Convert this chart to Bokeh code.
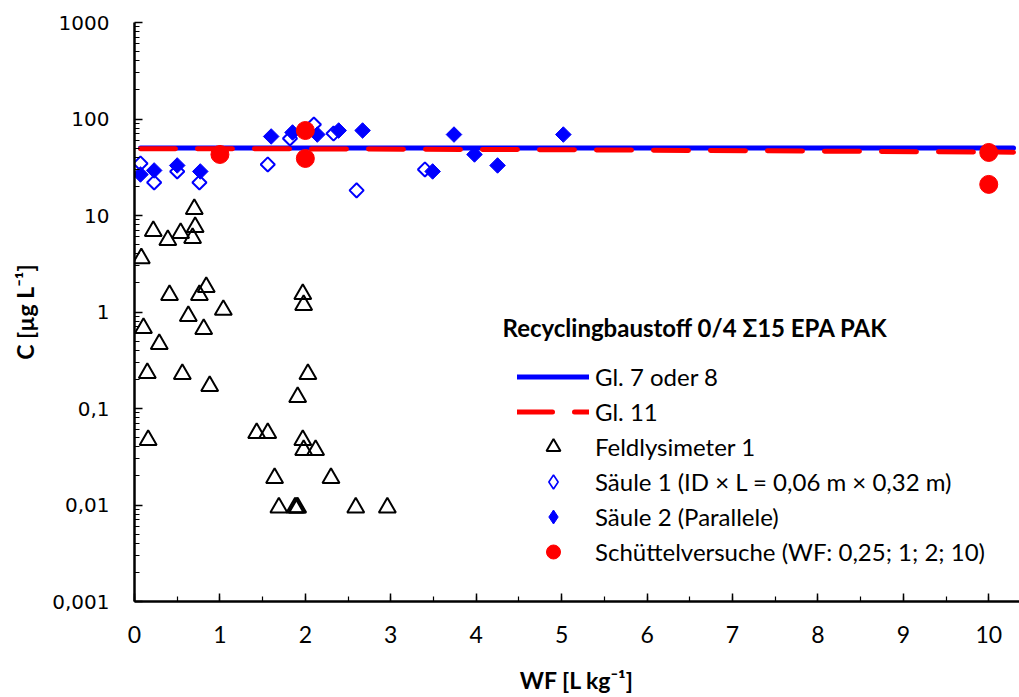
import math
from bokeh.plotting import figure
from bokeh.models import FixedTicker, Range1d, Legend, LegendItem, Label, LogScale
from bokeh.embed import file_html
from bokeh.resources import INLINE

# ---------------- data ----------------
# Feldlysimeter 1 (open triangles)
lys_wf = [0.08, 0.105, 0.15, 0.16, 0.22, 0.29, 0.39, 0.41, 0.54, 0.56, 0.63, 0.68,
          0.70, 0.71, 0.76, 0.84, 0.81, 0.88, 1.04, 1.43, 1.56, 1.64, 1.69, 1.88,
          1.90, 1.91, 2.59, 2.96, 1.97, 1.98, 2.03, 1.91, 1.97, 1.98, 2.12, 2.30]
lys_c = [3.6, 0.68, 0.233, 0.047, 6.9, 0.465, 5.56, 1.50, 6.57, 0.227, 0.907, 5.83,
         11.65, 7.58, 1.50, 1.81, 0.665, 0.171, 1.05, 0.0556, 0.0556, 0.019, 0.0094, 0.0094,
         0.0094, 0.0094, 0.0094, 0.0094, 1.53, 1.18, 0.227, 0.131, 0.047, 0.037, 0.037, 0.019]

# Säule 1 (open diamonds)
s1_wf = [0.07, 0.23, 0.50, 0.76, 1.56, 1.82, 2.10, 2.33, 2.60, 3.40]
s1_c = [34.6, 22.0, 28.6, 22.0, 33.8, 62.8, 87.7, 70.7, 18.2, 30.0]

# Säule 2 (filled diamonds)
s2_wf = [0.07, 0.23, 0.50, 0.77, 1.60, 1.85, 2.14, 2.39, 2.67, 3.49, 3.74, 3.98, 4.25, 5.02]
s2_c = [26.6, 29.3, 33.0, 28.6, 65.9, 72.5, 69.0, 76.0, 76.0, 28.6, 69.0, 42.9, 33.0, 69.0]

# Schüttelversuche (red circles)
sv_wf = [1.0, 2.0, 2.0, 10.0, 10.0]
sv_c = [42.9, 76.0, 39.0, 45.0, 21.0]

# Gl. 7 oder 8 (blue solid) and Gl. 11 (red dashed)
g78_wf = [0.07, 10.29]
g78_c = [50.0, 50.0]
g11_wf = [0.07, 2.0, 5.0, 8.0, 10.29]
g11_c = [49.3, 49.0, 48.0, 46.5, 45.3]

# axes
x_ticks = [0, 1, 2, 3, 4, 5, 6, 7, 8, 9, 10]
x_tick_labels = ["0", "1", "2", "3", "4", "5", "6", "7", "8", "9", "10"]
y_ticks = [0.001, 0.01, 0.1, 1, 10, 100, 1000]
y_tick_labels = ["0,001", "0,01", "0,1", "1", "10", "100", "1000"]
x_title = "WF [L kg\u207b\u00b9]"
y_title = "C [\u00b5g L\u207b\u00b9]"

legend_title = "Recyclingbaustoff 0/4 \u03a315 EPA PAK"
legend_labels = ["Gl. 7 oder 8", "Gl. 11", "Feldlysimeter 1",
                 "S\u00e4ule 1 (ID \u00d7 L = 0,06 m \u00d7 0,32 m)",
                 "S\u00e4ule 2 (Parallele)",
                 "Sch\u00fcttelversuche (WF: 0,25; 1; 2; 10)"]

BLUE = "#0000FF"
RED = "#FF0000"
FONT = "Lato"

# ---------------- figure ----------------
p = figure(width=1019, height=697, x_range=Range1d(0, 10.36), y_range=Range1d(0.001, 1000),
           y_axis_type="log", output_backend="svg", toolbar_location=None,
           min_border_left=134, min_border_right=0, min_border_top=22, min_border_bottom=96)
p.outline_line_color = None
p.xgrid.visible = False
p.ygrid.visible = False
p.background_fill_color = "white"
# range used only by the legend proxy glyphs (maps them outside the frame)
p.extra_y_ranges = {"legend_only": Range1d(1e6, 1e7)}
p.extra_y_scales = {"legend_only": LogScale()}

x_minor = [i * 0.5 for i in range(0, 21)]
y_minor = [m * 10.0 ** e for e in range(-3, 3) for m in range(2, 10)]
p.xaxis.ticker = FixedTicker(ticks=x_ticks, minor_ticks=x_minor)
p.yaxis.ticker = FixedTicker(ticks=y_ticks, minor_ticks=y_minor)
p.xaxis.major_label_overrides = {t: s for t, s in zip(x_ticks, x_tick_labels)}
p.yaxis.major_label_overrides = {t: s for t, s in zip(y_ticks, y_tick_labels)}

for ax in (p.xaxis[0], p.yaxis[0]):
    ax.axis_line_width = 2.5
    ax.axis_line_color = "black"
    ax.major_tick_in = 8
    ax.major_tick_out = 0
    ax.minor_tick_in = 5
    ax.minor_tick_out = 0
    ax.major_tick_line_width = 1.5
    ax.minor_tick_line_width = 1.2
    ax.major_tick_line_color = "black"
    ax.minor_tick_line_color = "black"
    ax.major_label_text_color = "black"
    ax.axis_label_text_font = FONT
    ax.axis_label_text_font_style = "bold"
    ax.axis_label_text_font_size = "23px"
    ax.axis_label_text_color = "black"

p.yaxis.major_label_text_font = "DejaVu Sans"
p.yaxis.major_label_text_font_size = "20px"
p.yaxis.major_label_standoff = 25
p.yaxis.axis_label = y_title
p.yaxis.axis_label_standoff = 10
p.xaxis.major_label_text_font = FONT
p.xaxis.major_label_text_font_size = "23px"
p.xaxis.major_label_standoff = 24
p.xaxis.axis_label = x_title
p.xaxis.axis_label_standoff = 20

# ---------------- glyphs ----------------
r78 = p.line(g78_wf, g78_c, line_color=BLUE, line_width=5, line_cap="round")
r11 = p.line(g11_wf, g11_c, line_color=RED, line_width=5, line_cap="round", line_dash="35 22")
rly = p.scatter(lys_wf, lys_c, marker="triangle", size=17, line_color="black", line_width=2,
                fill_color=None)
rs1 = p.scatter(s1_wf, s1_c, marker="square", angle=math.pi / 4, size=10, line_color=BLUE,
                line_width=2, fill_color=None)
rs2 = p.scatter(s2_wf, s2_c, marker="square", angle=math.pi / 4, size=11, line_color=BLUE,
                line_width=1, fill_color=BLUE)
rsv = p.scatter(sv_wf, sv_c, marker="circle", size=18, line_color=RED, fill_color=RED)

# legend proxies for the diamonds (legend glyphs ignore the marker angle)
ls1 = p.scatter(s1_wf, s1_c, marker="diamond", size=12, line_color=BLUE, line_width=1.6,
                fill_color=None, y_range_name="legend_only")
ls2 = p.scatter(s2_wf, s2_c, marker="diamond", size=12, line_color=BLUE, line_width=1,
                fill_color=BLUE, y_range_name="legend_only")

legend = Legend(items=[LegendItem(label=l, renderers=[r]) for l, r in
                       zip(legend_labels, [r78, r11, rly, ls1, ls2, rsv])],
                location=(383, 32), orientation="vertical")
legend.glyph_width = 72
legend.glyph_height = 35
legend.label_height = 35
legend.spacing = 0
legend.padding = 0
legend.margin = 0
legend.label_standoff = 6
legend.border_line_color = None
legend.background_fill_alpha = 0
legend.label_text_font = FONT
legend.label_text_font_size = "24px"
legend.label_text_color = "black"
p.add_layout(legend, "center")

# legend title
p.add_layout(Label(x=368, y=274, x_units="screen", y_units="screen", text=legend_title,
                   text_font=FONT, text_font_size="24px", text_font_style="bold",
                   text_baseline="middle", text_align="left", text_color="black"))

open("out.html", "w").write(file_html(p, INLINE))
